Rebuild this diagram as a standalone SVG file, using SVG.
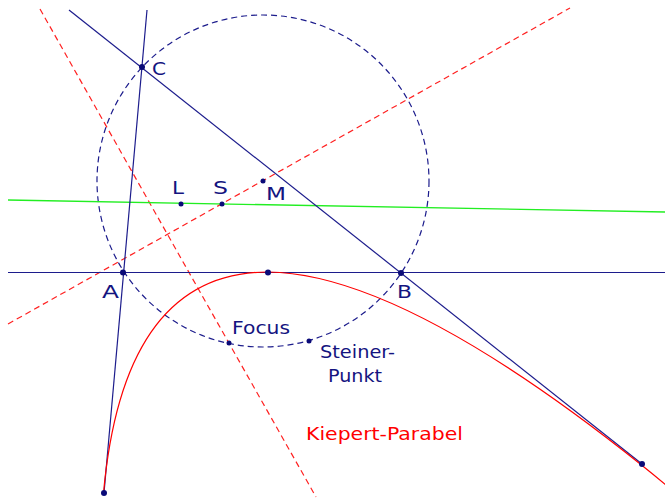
<svg xmlns="http://www.w3.org/2000/svg" width="665" height="499" viewBox="0 0 665 499">
<style>
.bl{stroke:#1c1c8c;stroke-width:1.2;fill:none}
.circ{stroke:#1c1c8c;stroke-width:1.2;fill:none;stroke-dasharray:6 4}
.rd{stroke:#ff2020;stroke-width:1.2;fill:none;stroke-dasharray:6 4}
.par{stroke:#ff0000;stroke-width:1.2;fill:none}
.gr{stroke:#22ee22;stroke-width:1.3;fill:none}
.pt{fill:#0a0a78}
text{font-family:"DejaVu Sans","Liberation Sans",sans-serif;font-size:17px;fill:#141480}
.rt{fill:#ff0000}
</style>
<rect width="665" height="499" fill="#ffffff"/>
<g id="connectors">
<circle class="circ" cx="263" cy="181" r="166"/>
<line class="rd" x1="40" y1="9" x2="316" y2="497"/>
<line class="rd" x1="8" y1="324" x2="570" y2="8"/>
<line class="gr" x1="8" y1="200" x2="665" y2="212"/>
<line class="bl" x1="8" y1="272.5" x2="665" y2="272.5"/>
<line class="bl" x1="147" y1="10" x2="104" y2="493"/>
<line class="bl" x1="69" y1="10" x2="642" y2="464"/>
<path class="par" d="M103.4,494.3 Q123,272 268,272 Q401,273 641.8,465.2 Q653.8,474.8 666,485"/>
</g>
<g id="A"><circle class="pt" cx="123" cy="272.5" r="3"/><text x="102" y="298" textLength="17" lengthAdjust="spacingAndGlyphs">A</text></g>
<g id="B"><circle class="pt" cx="401" cy="273" r="3"/><text x="397" y="298" textLength="15" lengthAdjust="spacingAndGlyphs">B</text></g>
<g id="C"><circle class="pt" cx="142" cy="67" r="3"/><text x="152" y="75" textLength="14" lengthAdjust="spacingAndGlyphs">C</text></g>
<g id="M"><circle class="pt" cx="263" cy="181" r="2.5"/><text x="266" y="200" textLength="20" lengthAdjust="spacingAndGlyphs">M</text></g>
<g id="L"><circle class="pt" cx="181" cy="204" r="2.5"/><text x="172" y="194" textLength="12" lengthAdjust="spacingAndGlyphs">L</text></g>
<g id="S"><circle class="pt" cx="222" cy="204" r="2.5"/><text x="213" y="194" textLength="15" lengthAdjust="spacingAndGlyphs">S</text></g>
<g id="Focus"><circle class="pt" cx="229" cy="343" r="2.5"/><text x="232" y="334" textLength="58" lengthAdjust="spacingAndGlyphs">Focus</text></g>
<g id="Steiner"><circle class="pt" cx="309" cy="341" r="2.5"/><text x="320" y="358" textLength="75" lengthAdjust="spacingAndGlyphs">Steiner-</text><text x="328" y="382" textLength="54" lengthAdjust="spacingAndGlyphs">Punkt</text></g>
<g id="T1"><circle class="pt" cx="268" cy="272.5" r="3"/></g>
<g id="T2"><circle class="pt" cx="104" cy="493" r="3"/></g>
<g id="T3"><circle class="pt" cx="642" cy="464" r="3"/></g>
<g id="label"><text class="rt" x="306" y="440" textLength="157" lengthAdjust="spacingAndGlyphs">Kiepert-Parabel</text></g>
</svg>
